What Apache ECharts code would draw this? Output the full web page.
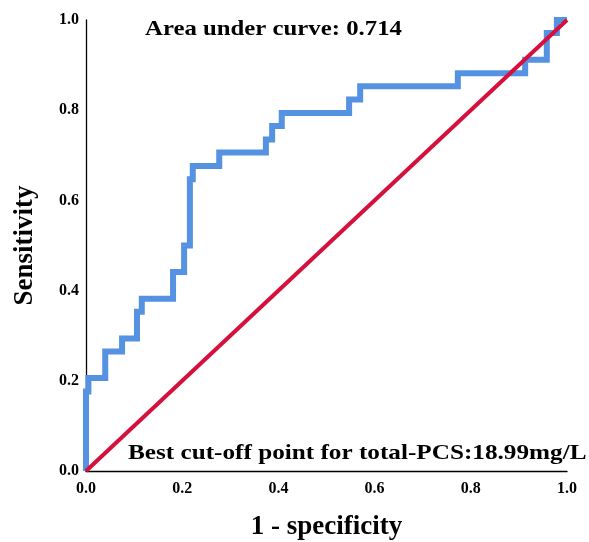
<!DOCTYPE html>
<html>
<head>
<meta charset="utf-8">
<script src="https://cdn.jsdelivr.net/npm/echarts@6/dist/echarts.min.js"></script>
<style>html,body{margin:0;padding:0;background:#fff;}#c{width:589px;height:542px;}</style>
</head>
<body>
<div id="c"></div>
<script>
var rocFpr = [0,0,0.005,0.005,0.04,0.04,0.075,0.075,0.106,0.106,0.116,0.116,0.181,0.181,0.204,0.204,0.216,0.216,0.222,0.222,0.277,0.277,0.374,0.374,0.387,0.387,0.407,0.407,0.547,0.547,0.57,0.57,0.773,0.773,0.913,0.913,0.958,0.958,0.979,0.979,1];
var rocTpr = [0,0.176,0.176,0.206,0.206,0.265,0.265,0.294,0.294,0.353,0.353,0.382,0.382,0.441,0.441,0.5,0.5,0.647,0.647,0.676,0.676,0.706,0.706,0.735,0.735,0.765,0.765,0.794,0.794,0.824,0.824,0.853,0.853,0.882,0.882,0.912,0.912,0.971,0.971,1,1];
var refX = [0,1];
var refY = [0,1];
var tickLabels = ['0.0','0.2','0.4','0.6','0.8','1.0'];
var aucText = 'Area under curve: 0.714';
var cutText = 'Best cut-off point for total-PCS:18.99mg/L';

var chart = echarts.init(document.getElementById('c'));
var font = '"Liberation Serif", "Times New Roman", serif';
chart.setOption({
  animation: false,
  grid: {left: 86, right: 22, top: 20, bottom: 71, containLabel: false, outerBoundsMode: 'none'},
  xAxis: {
    type: 'value', min: 0, max: 1, interval: 0.2,
    name: '1 - specificity', nameLocation: 'middle', nameGap: 43,
    nameTextStyle: {fontFamily: font, fontWeight: 'bold', fontSize: 27, color: '#000'},
    axisLine: {show: true, lineStyle: {color: '#000', width: 1.3}},
    axisTick: {show: false},
    splitLine: {show: false},
    axisLabel: {fontFamily: font, fontWeight: 'bold', fontSize: 16, color: '#000', margin: 10,
      formatter: function (v) { return tickLabels[Math.round(v * 5)]; }}
  },
  yAxis: {
    type: 'value', min: 0, max: 1, interval: 0.2,
    name: 'Sensitivity', nameLocation: 'middle', nameGap: 47,
    nameTextStyle: {fontFamily: font, fontWeight: 'bold', fontSize: 27, color: '#000'},
    axisLine: {show: true, lineStyle: {color: '#000', width: 1.3}},
    axisTick: {show: false},
    splitLine: {show: false},
    axisLabel: {fontFamily: font, fontWeight: 'bold', fontSize: 16, color: '#000', margin: 7,
      formatter: function (v) { return tickLabels[Math.round(v * 5)]; }}
  },
  series: [
    {
      type: 'line', symbol: 'none', z: 2,
      data: rocFpr.map(function (x, i) { return [x, rocTpr[i]]; }),
      lineStyle: {color: '#5592E2', width: 6, join: 'miter'}
    },
    {
      type: 'line', symbol: 'none', z: 3,
      data: refX.map(function (x, i) { return [x, refY[i]]; }),
      lineStyle: {color: '#D6103C', width: 4}
    }
  ],
  graphic: [
    {type: 'text', x: 145, y: 30, scaleX: 1.18,
     style: {text: aucText, font: 'bold 21px ' + font, fill: '#000', verticalAlign: 'middle', align: 'left'}},
    {type: 'text', x: 128, y: 454, scaleX: 1.2,
     style: {text: cutText, font: 'bold 21px ' + font, fill: '#000', verticalAlign: 'middle', align: 'left'}}
  ]
});
</script>
</body>
</html>
